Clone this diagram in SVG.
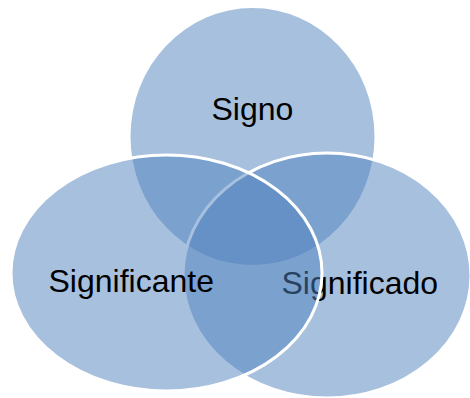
<svg xmlns="http://www.w3.org/2000/svg" width="470" height="398" viewBox="0 0 470 398">
<style>
.c{fill:#4F81BD;fill-opacity:0.5}
.s{stroke:#FFFFFF;stroke-width:3}
.t{font-family:"Liberation Sans",Arial,sans-serif;font-size:32px;fill:#000000}
</style>
<rect width="470" height="398" fill="#FFFFFF"/>
<g id="signo">
<ellipse class="c" cx="252.5" cy="136.5" rx="122" ry="128.5"/>
<text class="t" x="211.5" y="120">Signo</text>
</g>
<g id="significado">
<ellipse class="c s" cx="327" cy="275.5" rx="144" ry="122.5"/>
<text class="t" x="281.5" y="294">Significado</text>
</g>
<g id="significante">
<ellipse class="c s" cx="166.5" cy="273" rx="155.5" ry="118"/>
<text class="t" x="48.5" y="292">Significante</text>
</g>
<g id="connectors"/>
</svg>
